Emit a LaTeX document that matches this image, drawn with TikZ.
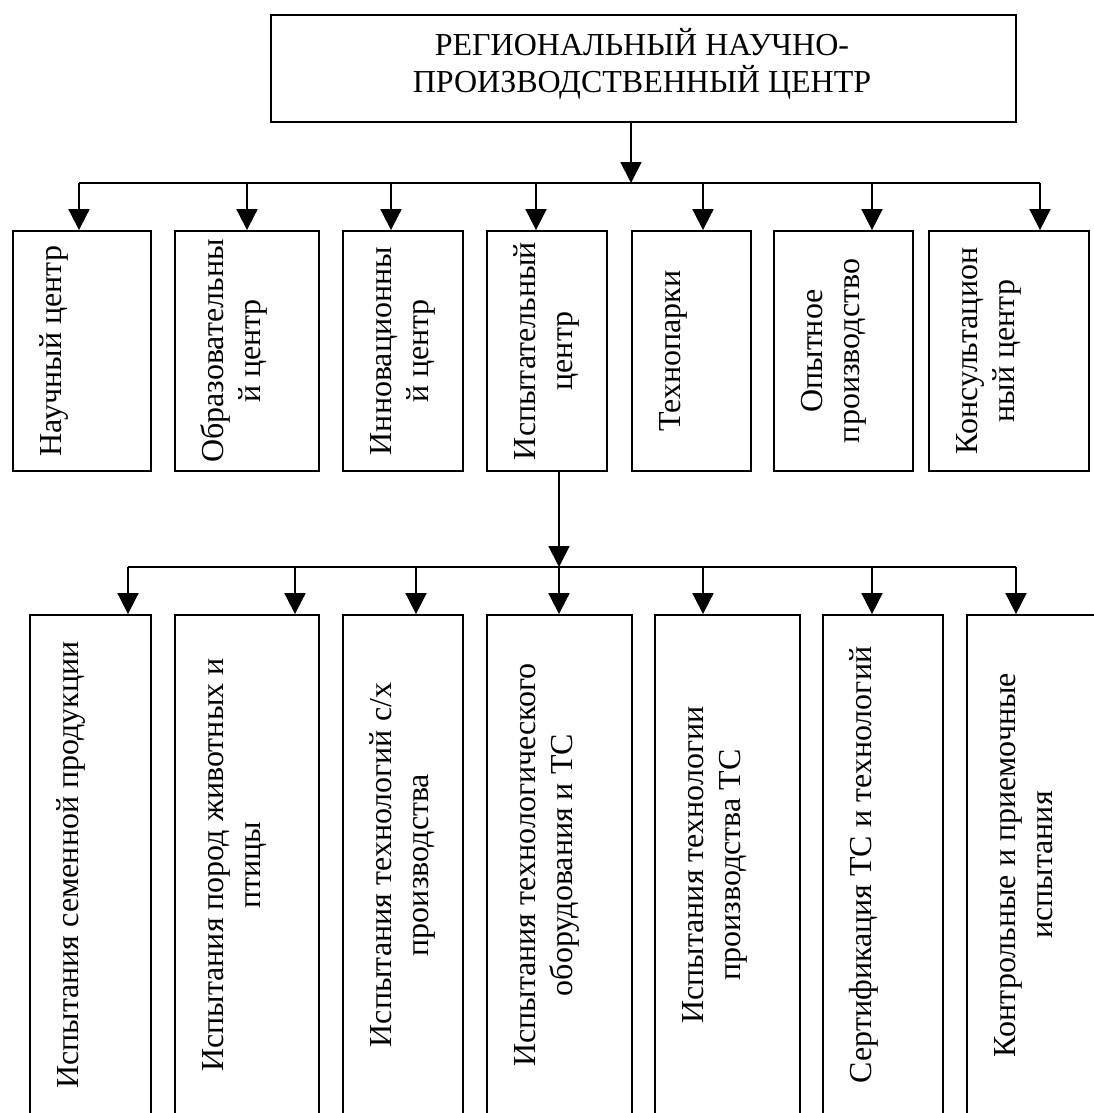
\documentclass[tikz,border=0pt]{standalone}
\usepackage{fontspec}
\setmainfont{Liberation Serif}
\usetikzlibrary{arrows.meta}
\newcommand{\st}{\rule{0pt}{30pt}}
\begin{document}
\begin{tikzpicture}[x=1pt,y=-1pt,
  box/.style={draw, line width=1.8pt, inner sep=0pt, rectangle},
  ln/.style={line width=1.8pt},
  arr/.style={line width=1.8pt, -{Triangle[width=21pt,length=21pt]}},
  vlbl/.style={rotate=90, anchor=north, inner sep=0pt, align=center, font=\fontsize{32}{37}\selectfont},
  hlbl/.style={anchor=north, inner sep=0pt, align=center, font=\fontsize{32}{37}\selectfont}]
\useasboundingbox (0,0) rectangle (1093,1113);

% top box
\node[box, minimum width=745pt, minimum height=107pt] (top) at (643.5,68.5) {};
\node[hlbl] (toptxt) at (642,25) {\st РЕГИОНАЛЬНЫЙ НАУЧНО-\\ПРОИЗВОДСТВЕННЫЙ ЦЕНТР};

% row 1 boxes (y 231 - 471)
\node[box, minimum width=138pt, minimum height=240pt] (a1) at (82,351) {};
\node[box, minimum width=144pt, minimum height=240pt] (a2) at (247,351) {};
\node[box, minimum width=120pt, minimum height=240pt] (a3) at (403,351) {};
\node[box, minimum width=120pt, minimum height=240pt] (a4) at (547,351) {};
\node[box, minimum width=119pt, minimum height=240pt] (a5) at (691.5,351) {};
\node[box, minimum width=139pt, minimum height=240pt] (a6) at (843.5,351) {};
\node[box, minimum width=160pt, minimum height=240pt] (a7) at (1009,351) {};

\node[vlbl] (ta1) at ([xshift=19pt]a1.west) {\st Научный центр};
\node[vlbl] (ta2) at ([xshift=19pt]a2.west) {\st Образовательны\\й центр};
\node[vlbl] (ta3) at ([xshift=19pt]a3.west) {\st Инновационны\\й центр};
\node[vlbl] (ta4) at ([xshift=19pt]a4.west) {\st Испытательный\\центр};
\node[vlbl] (ta5) at ([xshift=19pt]a5.west) {\st Технопарки};
\node[vlbl] (ta6) at ([xshift=19pt]a6.west) {\st Опытное\\производство};
\node[vlbl] (ta7) at ([xshift=19pt]a7.west) {\st Консультацион\\ный центр};

% row 1 connectors
\coordinate (h1) at (631,183);
\coordinate (b1) at (79,183);
\coordinate (b2) at (247,183);
\coordinate (b3) at (391,183);
\coordinate (b4) at (536,183);
\coordinate (b5) at (703,183);
\coordinate (b6) at (872,183);
\coordinate (b7) at (1040,183);
\draw[arr] (h1 |- top.south) -- (h1);
\draw[ln] (b1) -- (b7);
\draw[arr] (b1) -- (b1 |- a1.north);
\draw[arr] (b2) -- (b2 |- a2.north);
\draw[arr] (b3) -- (b3 |- a3.north);
\draw[arr] (b4) -- (b4 |- a4.north);
\draw[arr] (b5) -- (b5 |- a5.north);
\draw[arr] (b6) -- (b6 |- a6.north);
\draw[arr] (b7) -- (b7 |- a7.north);

% row 2 boxes (y 615 - 1115)
\node[box, minimum width=121pt, minimum height=500pt] (d1) at (90.5,865) {};
\node[box, minimum width=144pt, minimum height=500pt] (d2) at (247,865) {};
\node[box, minimum width=120pt, minimum height=500pt] (d3) at (403,865) {};
\node[box, minimum width=145pt, minimum height=500pt] (d4) at (559.5,865) {};
\node[box, minimum width=145pt, minimum height=500pt] (d5) at (727.5,865) {};
\node[box, minimum width=120pt, minimum height=500pt] (d6) at (883,865) {};
\node[box, minimum width=135pt, minimum height=500pt] (d7) at (1034.5,865) {};

\node[vlbl] (td1) at ([xshift=19pt]d1.west) {\st Испытания семенной продукции};
\node[vlbl] (td2) at ([xshift=19pt]d2.west) {\st Испытания пород животных и\\птицы};
\node[vlbl] (td3) at ([xshift=19pt]d3.west) {\st Испытания технологий с/х\\производства};
\node[vlbl] (td4) at ([xshift=19pt]d4.west) {\st Испытания технологического\\оборудования и ТС};
\node[vlbl] (td5) at ([xshift=19pt]d5.west) {\st Испытания технологии\\производства ТС};
\node[vlbl] (td6) at ([xshift=19pt]d6.west) {\st Сертификация ТС и технологий};
\node[vlbl] (td7) at ([xshift=19pt]d7.west) {\st Контрольные и приемочные\\испытания};

% row 2 connectors
\coordinate (h2) at (559,567);
\coordinate (c1) at (128,567);
\coordinate (c2) at (295,567);
\coordinate (c3) at (416,567);
\coordinate (c4) at (559,567);
\coordinate (c5) at (703,567);
\coordinate (c6) at (872,567);
\coordinate (c7) at (1016,567);
\draw[arr] (h2 |- a4.south) -- (h2);
\draw[ln] (c1) -- (c7);
\draw[arr] (c1) -- (c1 |- d1.north);
\draw[arr] (c2) -- (c2 |- d2.north);
\draw[arr] (c3) -- (c3 |- d3.north);
\draw[arr] (c4) -- (c4 |- d4.north);
\draw[arr] (c5) -- (c5 |- d5.north);
\draw[arr] (c6) -- (c6 |- d6.north);
\draw[arr] (c7) -- (c7 |- d7.north);
\end{tikzpicture}
\end{document}
